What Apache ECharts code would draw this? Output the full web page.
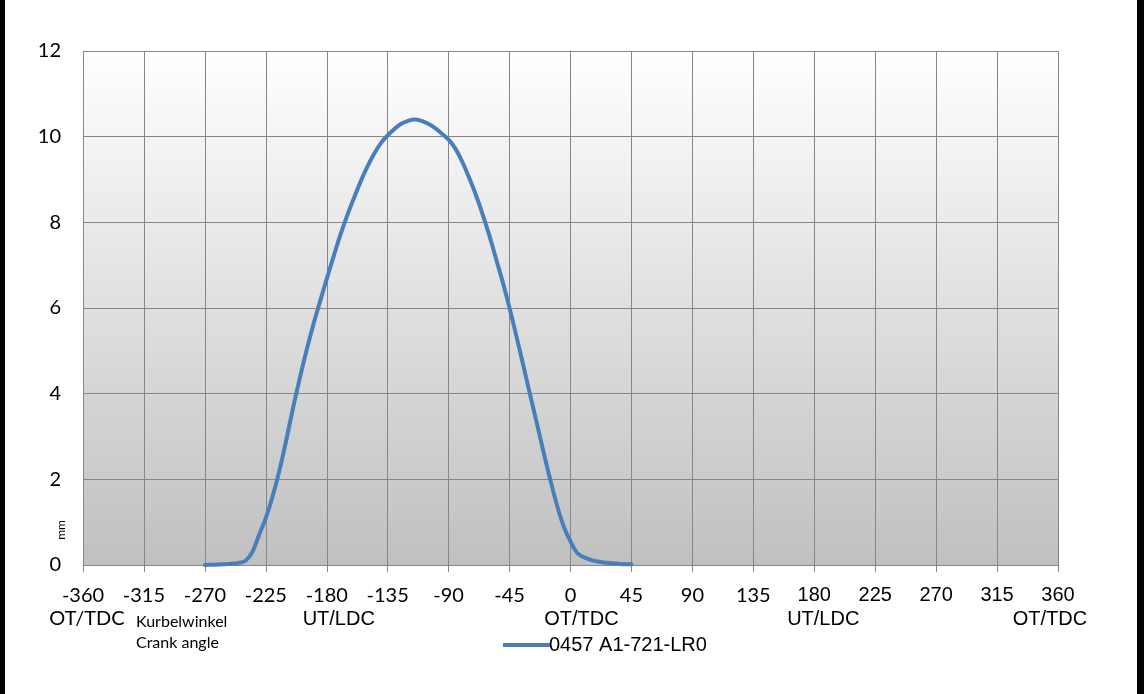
<!DOCTYPE html>
<html>
<head>
<meta charset="utf-8">
<script src="https://cdn.jsdelivr.net/npm/echarts@6/dist/echarts.min.js"></script>
<style>
html,body{margin:0;padding:0;background:#fff;}
#chart{width:1144px;height:694px;}
</style>
</head>
<body>
<div id="chart"></div>
<script>
// Crank angle (deg) and valve lift (mm)
var angles = [-270,-265,-260,-255,-250,-245,-240,-235,-230,-225,-220,-215,-210,-205,-200,-195,-190,-185,-180,-175,-170,-165,-160,-155,-150,-145,-140,-135,-130,-125,-120,-115,-110,-105,-100,-95,-90,-85,-80,-75,-70,-65,-60,-55,-50,-45,-40,-35,-30,-25,-20,-15,-10,-5,0,5,10,15,20,25,30,35,40,45];
var lift   = [0,0.005,0.01,0.02,0.03,0.05,0.1,0.3,0.7,1.1,1.6,2.2,2.9,3.65,4.35,5.0,5.6,6.15,6.68,7.2,7.7,8.15,8.56,8.95,9.3,9.6,9.85,10.03,10.18,10.3,10.37,10.4,10.37,10.3,10.2,10.07,9.93,9.72,9.42,9.05,8.65,8.2,7.7,7.15,6.6,6.0,5.35,4.68,4.0,3.33,2.65,2.0,1.4,0.9,0.55,0.28,0.18,0.12,0.08,0.06,0.04,0.03,0.02,0.02];
var seriesName = '0457 A1-721-LR0';
var xTickLabels = {'-360':'OT/TDC','-180':'UT/LDC','0':'OT/TDC','180':'UT/LDC','360':'OT/TDC'};
var xAxisTitle = ['Kurbelwinkel','Crank angle'];
var yAxisTitle = 'mm';

var data = angles.map(function(a,i){return [a, lift[i]];});
var chart = echarts.init(document.getElementById('chart'));
var gridLine = {color:'#868686',width:1};
var option = {
  animation:false,
  backgroundColor:'#ffffff',
  grid:{left:83,right:86,top:51,bottom:129,show:true,borderWidth:0,
    backgroundColor:{type:'linear',x:0,y:0,x2:0,y2:1,colorStops:[{offset:0,color:'#ffffff'},{offset:1,color:'#c0c0c0'}]}},
  xAxis:[{type:'value',min:-360,max:360,interval:45,
    axisLine:{show:true,lineStyle:gridLine},
    axisTick:{show:true,length:7,lineStyle:{color:'#868686'}},
    splitLine:{show:true,lineStyle:gridLine},
    axisLabel:{margin:18,color:'#000',showMinLabel:true,showMaxLabel:true,
      formatter:function(v){ return '{'+(v<=135?'a':'c')+'|'+v+'}'; },
      rich:{
        a:{fontFamily:'Lato',fontSize:20,color:'#000',lineHeight:25},
        c:{fontFamily:'Liberation Sans',fontSize:20,color:'#000',lineHeight:25}
      }
    }
  },{type:'value',min:-360,max:360,interval:45,position:'bottom',
    axisLine:{show:false},axisTick:{show:false},splitLine:{show:false},
    axisLabel:{margin:43,color:'#000',showMinLabel:true,showMaxLabel:true,
      formatter:function(v){
        var sub = xTickLabels[String(v)];
        if(!sub) return '';
        var key = v===-360?'b':(v===-180?'bs':(v===0?'bz':(v===180?'d':'dr')));
        return '{'+key+'|'+sub+'}';
      },
      rich:{
        b:{fontFamily:'Lato',fontSize:20,color:'#000',lineHeight:22,padding:[0,0,0,8]},
        bs:{fontFamily:'Liberation Sans',fontSize:20,color:'#000',lineHeight:22,padding:[0,0,0,24]},
        bz:{fontFamily:'Liberation Sans',fontSize:20,color:'#000',lineHeight:22,padding:[0,0,0,22]},
        d:{fontFamily:'Liberation Sans',fontSize:20,color:'#000',lineHeight:22,padding:[0,0,0,18]},
        dr:{fontFamily:'Liberation Sans',fontSize:20,color:'#000',lineHeight:22,padding:[0,16,0,0]}
      }
    }
  }],
  yAxis:{type:'value',min:0,max:12,interval:2,
    axisLine:{show:true,lineStyle:gridLine},
    axisTick:{show:true,length:7,lineStyle:{color:'#868686'}},
    splitLine:{show:true,lineStyle:gridLine},
    axisLabel:{margin:22,color:'#000',fontFamily:'Lato',fontSize:20,showMinLabel:true,showMaxLabel:true}
  },
  legend:{show:true,left:498,top:630,itemWidth:48,itemHeight:14,itemGap:6,
    textStyle:{fontFamily:'Liberation Sans',fontSize:20,color:'#000',padding:[0,0,0,-7]},
    data:[{name:seriesName,icon:'path://M0,0 L100,0 L100,8 L0,8 Z'}]},
  series:[{name:seriesName,type:'line',xAxisIndex:0,data:data,smooth:0.4,
    showSymbol:false,symbol:'none',
    lineStyle:{color:'#4a7ebb',width:4,cap:'round'},itemStyle:{color:'#4a7ebb'}}],
  graphic:[
    {type:'rect',left:0,top:0,shape:{width:5,height:694},style:{fill:'#000'}},
    {type:'rect',left:1137,top:0,shape:{width:7,height:694},style:{fill:'#000'}},
    {type:'text',left:136,top:614,style:{text:xAxisTitle[0],font:'16px Lato',fill:'#000'}},
    {type:'text',left:136,top:635,style:{text:xAxisTitle[1],font:'16px Lato',fill:'#000'}},
    {type:'text',x:61,y:530,rotation:Math.PI/2,style:{text:yAxisTitle,font:'12px Lato',fill:'#000',align:'center',verticalAlign:'middle'}}
  ]
};
chart.setOption(option);
</script>
</body>
</html>
